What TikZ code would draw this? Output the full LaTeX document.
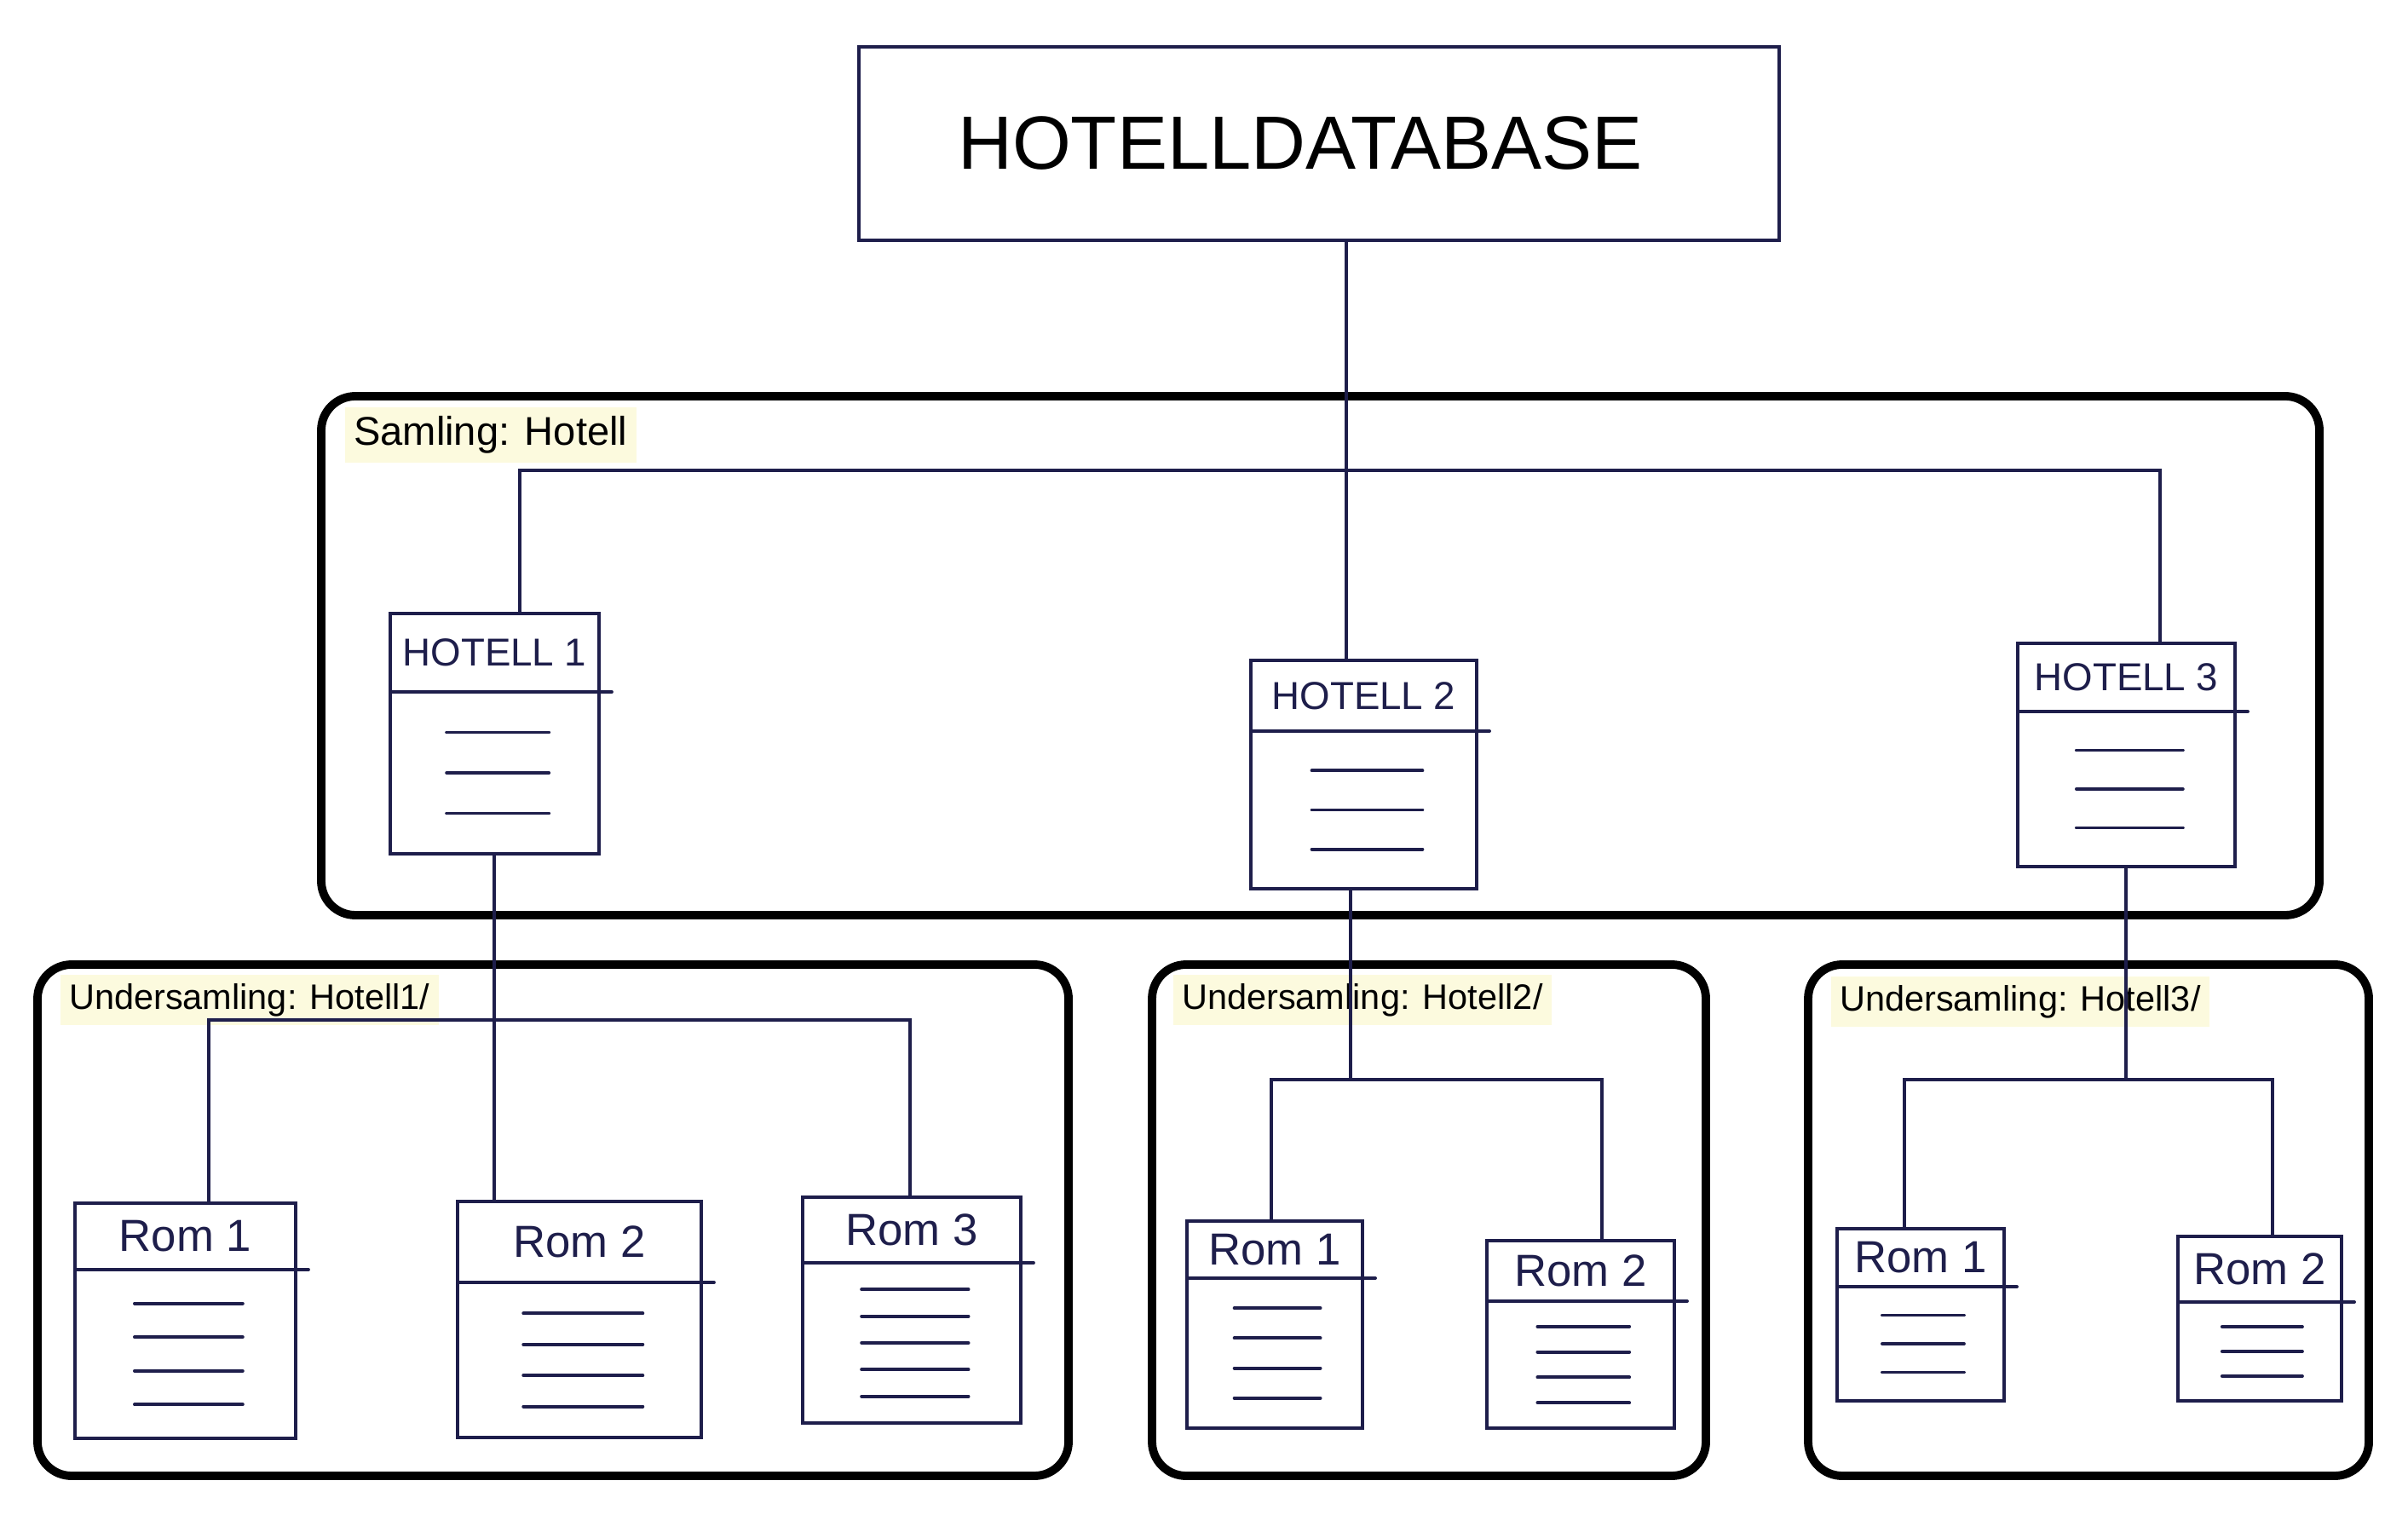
\documentclass[tikz,border=0pt]{standalone}
\usepackage{fontspec}
\setmainfont{Liberation Sans}
\usepackage{tikz}
\usetikzlibrary{calc}
\usetikzlibrary{positioning}
\definecolor{ink}{RGB}{30,30,75}
\definecolor{notebg}{RGB}{252,250,222}

% a hand drawn record: name, left, top, right, bottom, header line, title, lines
\newcommand{\card}[8]{%
	\node [card, minimum width={(#4-#2)*1cm}, minimum height={(#3-#5)*1cm}] (#1) at ({(#2+#4)/2},{(#3+#5)/2}) {};
	\draw [inkline] (#2,#6) -- ({#4+0.15},#6);
	\node [hand] at ({(#2+#4)/2},{(#3+#6)/2}) {#7};
	\foreach \i in {1,...,#8}
		\draw [inkline] ({#2+0.27*(#4-#2)},{#6+\i*(#5-#6)/(#8+1)}) -- ({#4-0.24*(#4-#2)},{#6+\i*(#5-#6)/(#8+1)});
}

\begin{document}
\begin{tikzpicture}[
	inkline/.style={ink,line width=1.1pt,line cap=round},
	card/.style={draw=ink,line width=1.1pt,rectangle,inner sep=0pt,outer sep=0pt},
	titlesize/.style={font=\fontsize{15}{17}\selectfont},
	hand/.style={text=ink,titlesize},
	frame/.style={draw=black,line width=2.8pt,rounded corners=0.4cm},
	note/.style={fill=notebg,inner xsep=3pt,inner ysep=3pt,anchor=north west}]
	\useasboundingbox (0,0) rectangle (28.26,-17.85);

	% database
	\node [card, minimum width=10.80cm, minimum height=2.27cm,
		label={[xshift=-0.22cm, font=\fontsize{25.2}{28}\selectfont]center:HOTELLDATABASE}] (db) at (15.48,-1.685) {};

	% collections
	\draw [frame] (3.77,-4.65) rectangle (27.22,-10.74);
	\node [note, font=\fontsize{13.4}{16}\selectfont] (samling) at (4.04,-4.77) {Samling: Hotell};

	\draw [frame] (0.44,-11.32) rectangle (12.54,-17.32);
	\draw [frame] (13.52,-11.32) rectangle (20.02,-17.32);
	\draw [frame] (21.22,-11.32) rectangle (27.80,-17.32);
	\node [note, font=\fontsize{11.8}{14}\selectfont] (under1) at (0.70,-11.43) {Undersamling: Hotell1/};
	\node [note, font=\fontsize{11.8}{14}\selectfont] (under2) at (13.76,-11.43) {Undersamling: Hotell2/};
	\node [note, font=\fontsize{11.8}{14}\selectfont] (under3) at (21.48,-11.45) {Undersamling: Hotell3/};

	% hotels
	\tikzset{titlesize/.style={font=\fontsize{13}{15}\selectfont}}
	\card{h1}{4.58}{-7.20}{7.03}{-10.02}{-8.12}{HOTELL 1}{3}
	\card{h2}{14.68}{-7.75}{17.33}{-10.43}{-8.58}{HOTELL 2}{3}
	\card{h3}{23.68}{-7.55}{26.23}{-10.17}{-8.35}{HOTELL 3}{3}

	% rooms
	\tikzset{titlesize/.style={font=\fontsize{15}{17}\selectfont}}
	\card{r11}{0.88}{-14.12}{3.47}{-16.88}{-14.90}{Rom 1}{4}
	\card{r12}{5.37}{-14.10}{8.23}{-16.87}{-15.05}{Rom 2}{4}
	\card{r13}{9.42}{-14.05}{11.98}{-16.70}{-14.82}{Rom 3}{5}
	\card{r21}{13.93}{-14.33}{15.99}{-16.76}{-15.00}{Rom 1}{4}
	\card{r22}{17.45}{-14.56}{19.65}{-16.76}{-15.27}{Rom 2}{4}
	\card{r31}{21.56}{-14.42}{23.52}{-16.44}{-15.10}{Rom 1}{3}
	\card{r32}{25.56}{-14.51}{27.48}{-16.44}{-15.28}{Rom 2}{3}

	% connectors
	\coordinate (j0) at (15.80,-5.52);
	\coordinate (j0l) at (6.10,-5.52);
	\coordinate (j0r) at (25.35,-5.52);
	\draw [inkline] (db.south -| j0) -- (h2.north -| j0);
	\draw [inkline] (h1.north -| j0l) -- (j0l) -- (j0r) -- (h3.north -| j0r);

	\coordinate (j1) at (5.80,-11.97);
	\coordinate (j1l) at (2.45,-11.97);
	\coordinate (j1r) at (10.68,-11.97);
	\draw [inkline] (h1.south -| j1) -- (r12.north -| j1);
	\draw [inkline] (r11.north -| j1l) -- (j1l) -- (j1r) -- (r13.north -| j1r);

	\coordinate (j2) at (15.85,-12.67);
	\coordinate (j2l) at (14.92,-12.67);
	\coordinate (j2r) at (18.80,-12.67);
	\draw [inkline] (h2.south -| j2) -- (j2);
	\draw [inkline] (r21.north -| j2l) -- (j2l) -- (j2r) -- (r22.north -| j2r);

	\coordinate (j3) at (24.95,-12.67);
	\coordinate (j3l) at (22.35,-12.67);
	\coordinate (j3r) at (26.67,-12.67);
	\draw [inkline] (h3.south -| j3) -- (j3);
	\draw [inkline] (r31.north -| j3l) -- (j3l) -- (j3r) -- (r32.north -| j3r);

\end{tikzpicture}
\end{document}
